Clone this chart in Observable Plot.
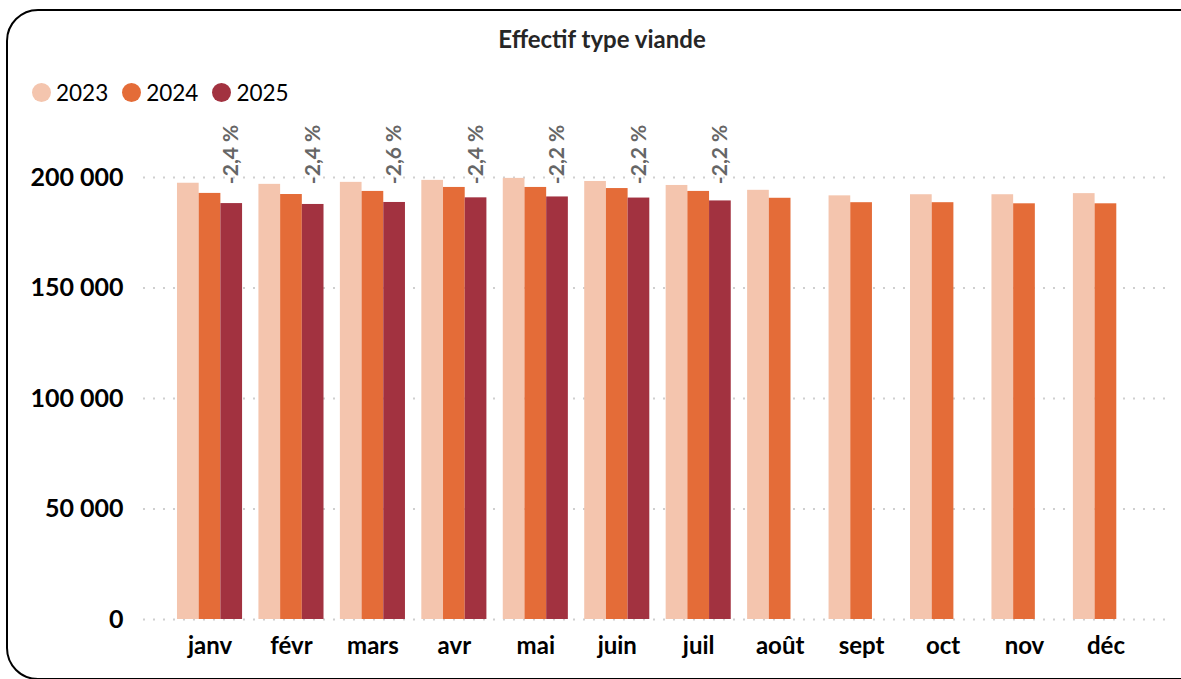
<!DOCTYPE html>
<html>
<head>
<meta charset="utf-8">
<script src="https://cdn.jsdelivr.net/npm/d3@7"></script>
<script src="https://cdn.jsdelivr.net/npm/@observablehq/plot@0.6"></script>
<style>
  html, body { margin: 0; padding: 0; background: #fff; }
  #wrap { position: relative; width: 1181px; height: 679px; overflow: hidden; font-family: Lato, "Open Sans", sans-serif; }
  #frame { position: absolute; left: 6px; top: 9px; width: 1210px; height: 671px; border: 2px solid #000; border-radius: 32px; box-sizing: border-box; }
  #title { position: absolute; left: 0; top: 24px; width: 1204px; text-align: center; font-weight: bold; font-size: 24px; color: #262626; }
  #legend { position: absolute; left: 32px; top: 79px; display: flex; align-items: center; font-size: 22.5px; color: #000; }
  .item { display: flex; align-items: center; margin-right: 14px; }
  .dot { width: 19px; height: 19px; border-radius: 50%; margin-right: 5px; }
  .layer { position: absolute; left: 0; top: 0; }
</style>
</head>
<body>
<div id="wrap">
  <div id="frame"></div>
  <div id="grid" class="layer"></div>
  <div id="chart" class="layer"></div>
  <div id="title">Effectif type viande</div>
  <div id="legend"></div>
</div>
<script>
const months = ["janv","févr","mars","avr","mai","juin","juil","août","sept","oct","nov","déc"];
const years = ["2023","2024","2025"];
const colors = ["#F4C5AE","#E46C38","#A23240"];
const v2023 = [197400,196900,197800,198700,199600,198200,196400,194200,191700,192200,192200,192700];
const v2024 = [192800,192300,193700,195500,195500,195000,193700,190600,188600,188600,188100,188100];
const v2025 = [188200,187800,188700,190800,191200,190700,189400];
const pctChange = [-2.4,-2.4,-2.6,-2.4,-2.2,-2.2,-2.2];
const yTicks = [0,50000,100000,150000,200000];

const series = [v2023, v2024, v2025];
const data = [];
months.forEach((m, i) => {
  years.forEach((y, j) => {
    if (i < series[j].length) data.push({month: m, year: y, value: series[j][i]});
  });
});
const pctData = pctChange.map((p, i) => ({month: months[i], pct: p}));

const fmt = d => d3.format(",")(d).replace(/,/g, " ");
const fmtPct = d => d.pct.toFixed(1).replace(".", ",") + " %";

const common = {
  width: 1181,
  height: 679,
  marginLeft: 143,
  marginRight: 16,
  marginTop: 177,
  marginBottom: 60,
  style: {fontFamily: "Lato, 'Open Sans', sans-serif", background: "transparent", color: "#000"}
};

// Background layer: gridlines and y-axis labels spanning the whole frame
const grid = Plot.plot({
  ...common,
  x: {axis: null},
  y: {domain: [0, 200000], axis: null},
  marks: [
    Plot.ruleY(yTicks, {y: d => d, stroke: "#cfcfcf", strokeWidth: 2, strokeDasharray: "2 8"}),
    Plot.text(yTicks, {y: d => d, text: fmt, frameAnchor: "left", textAnchor: "end", dx: -20, fontSize: 25, fontWeight: "bold", fill: "#000"})
  ]
});
document.getElementById("grid").appendChild(grid);

// Foreground layer: grouped bars faceted by month
const chart = Plot.plot({
  ...common,
  fx: {domain: months, paddingInner: 0, paddingOuter: 0.274, align: 0.578, round: false, label: null},
  x: {domain: years, paddingInner: 0, paddingOuter: 0.377, round: false, axis: null},
  y: {domain: [0, 200000], axis: null},
  color: {domain: years, range: colors},
  marks: [
    Plot.barY(data, {fx: "month", x: "year", y: "value", fill: "year"}),
    Plot.text(pctData, {fx: "month", x: () => "2025", y: () => 197000, text: fmtPct, rotate: -90, textAnchor: "start", fontSize: 21, fontWeight: "bold", fill: "#666666"}),
    Plot.axisFx({anchor: "bottom", tickSize: 0, tickPadding: 17, fontSize: 24, fontWeight: "bold", label: null})
  ]
});
document.getElementById("chart").appendChild(chart);

const legend = document.getElementById("legend");
years.forEach((y, i) => {
  const it = document.createElement("div");
  it.className = "item";
  it.innerHTML = `<span class="dot" style="background:${colors[i]}"></span><span>${y}</span>`;
  legend.appendChild(it);
});
</script>
</body>
</html>
